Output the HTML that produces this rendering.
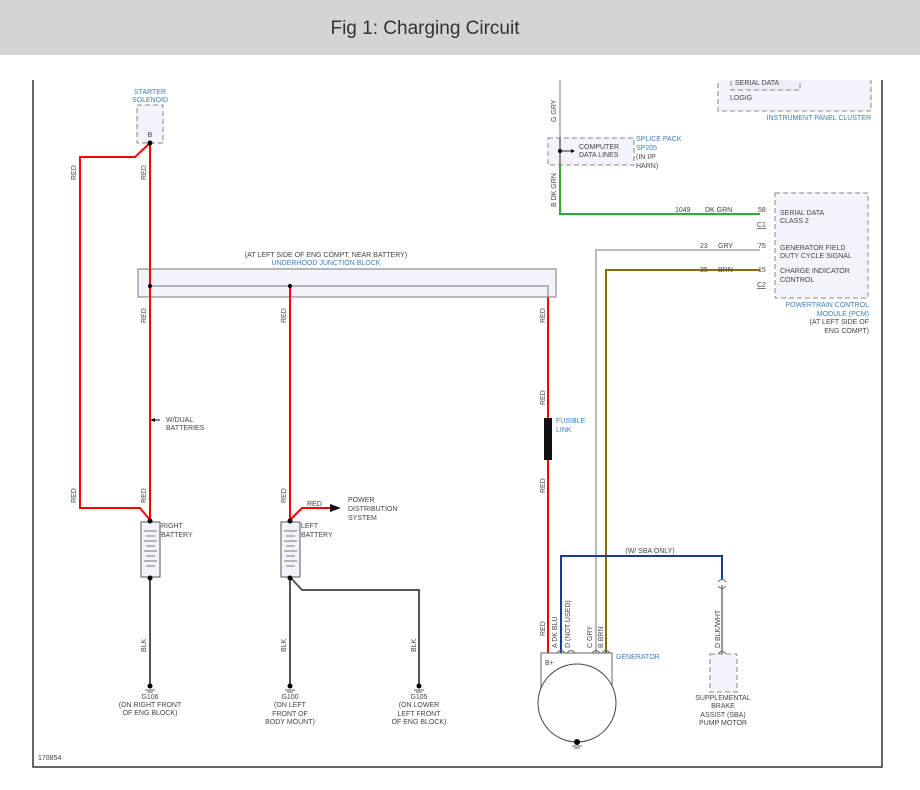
<!DOCTYPE html>
<html><head><meta charset="utf-8"><style>
body{margin:0;background:#fff;width:920px;height:790px;overflow:hidden}
svg{display:block}
text{font-family:"Liberation Sans",sans-serif;font-size:7px;fill:#444}
.b{fill:#3a7fc1}
</style></head><body>
<svg width="920" height="790" viewBox="0 0 920 790">
<rect x="0" y="0" width="920" height="55" fill="#d4d4d4"/>
<text x="425" y="34" text-anchor="middle" style="font-size:19px;fill:#333">Fig 1: Charging Circuit</text>
<!-- frame -->
<path d="M33 80V767H882V80" fill="none" stroke="#333" stroke-width="1.5"/>
<!-- IPC -->
<rect x="718" y="72" width="153" height="39" fill="#f3f3fc" stroke="#888" stroke-dasharray="5,3"/>
<rect x="731" y="72" width="69" height="18" fill="#eeeefa" stroke="#888" stroke-dasharray="5,3"/>
<rect x="716" y="60" width="160" height="20" fill="#fff"/>
<text x="735" y="85">SERIAL DATA</text>
<text x="730" y="100">LOGIG</text>
<text x="871" y="120" text-anchor="end" class="b">INSTRUMENT PANEL CLUSTER</text>
<!-- starter -->
<text x="150" y="94" text-anchor="middle" class="b">STARTER</text>
<text x="150" y="102" text-anchor="middle" class="b">SOLENOID</text>
<rect x="137" y="105" width="26" height="38" fill="#f3f3fc" stroke="#888" stroke-dasharray="5,3"/>
<text x="150" y="137" text-anchor="middle">B</text>
<!-- red wires -->
<g fill="none" stroke="#f00" stroke-width="2">
<path d="M150 143V520"/>
<path d="M150 143L135 157H80V508H140L150 520"/>
<path d="M290 286V520"/>
<path d="M290 520L302 508H330"/>
<path d="M548 297V655"/>
</g>
<path d="M330 504L341 508L330 512Z" fill="#111"/>
<!-- junction block -->
<text x="326" y="257" text-anchor="middle">(AT LEFT SIDE OF ENG COMPT, NEAR BATTERY)</text>
<text x="326" y="265" text-anchor="middle" class="b">UNDERHOOD JUNCTION BLOCK</text>
<rect x="138" y="269" width="418" height="28" fill="#f3f3fc" stroke="#777"/>
<path d="M150 286H548V297" fill="none" stroke="#777"/>
<path d="M150 269V297M290 286V297" stroke="#f00" stroke-width="2"/>
<circle cx="150" cy="286" r="2" fill="#000"/><circle cx="290" cy="286" r="2" fill="#000"/>
<circle cx="150" cy="143" r="2.5" fill="#000"/>
<!-- fusible link -->
<rect x="544" y="418" width="8" height="42" fill="#111"/>
<text x="556" y="423" class="b">FUSIBLE</text><text x="556" y="432" class="b">LINK</text>
<!-- wire labels rotated -->
<g>
<text transform="translate(76,180) rotate(-90)">RED</text>
<text transform="translate(146,180) rotate(-90)">RED</text>
<text transform="translate(146,323) rotate(-90)">RED</text>
<text transform="translate(286,323) rotate(-90)">RED</text>
<text transform="translate(545,323) rotate(-90)">RED</text>
<text transform="translate(545,405) rotate(-90)">RED</text>
<text transform="translate(545,493) rotate(-90)">RED</text>
<text transform="translate(76,503) rotate(-90)">RED</text>
<text transform="translate(146,503) rotate(-90)">RED</text>
<text transform="translate(286,503) rotate(-90)">RED</text>
<text transform="translate(146,652) rotate(-90)">BLK</text>
<text transform="translate(286,652) rotate(-90)">BLK</text>
<text transform="translate(416,652) rotate(-90)">BLK</text>
<text transform="translate(545,636) rotate(-90)">RED</text>
<text transform="translate(557,648) rotate(-90)">A  DK BLU</text>
<text transform="translate(570,648) rotate(-90)">D   (NOT USED)</text>
<text transform="translate(592,648) rotate(-90)">C  GRY</text>
<text transform="translate(603,648) rotate(-90)">B  BRN</text>
<text transform="translate(720,648) rotate(-90)">D  BLK/WHT</text>
<text transform="translate(556,122) rotate(-90)">G   GRY</text>
<text transform="translate(556,207) rotate(-90)">B   DK GRN</text>
</g>
<text x="307" y="506">RED</text>
<text x="348" y="502">POWER</text><text x="348" y="511">DISTRIBUTION</text><text x="348" y="520">SYSTEM</text>
<path d="M152 420H160" stroke="#111"/><path d="M150 420L155 418V422Z" fill="#111"/>
<text x="166" y="422">W/DUAL</text><text x="166" y="430">BATTERIES</text>
<!-- batteries -->
<g stroke="#555" fill="#f3f3fc">
<rect x="141" y="522" width="19" height="55"/><rect x="281" y="522" width="19" height="55"/>
</g>
<g stroke="#777">
<path d="M144 531h13M146 536h9M144 541h13M146 546h9M144 551h13M146 556h9M144 561h13M146 566h9"/>
<path d="M284 531h13M286 536h9M284 541h13M286 546h9M284 551h13M286 556h9M284 561h13M286 566h9"/>
</g>
<text x="161" y="528">RIGHT</text><text x="161" y="537">BATTERY</text>
<text x="301" y="528">LEFT</text><text x="301" y="537">BATTERY</text>
<circle cx="150" cy="521" r="2.5" fill="#000"/><circle cx="290" cy="521" r="2.5" fill="#000"/>
<g fill="none" stroke="#555" stroke-width="2">
<path d="M150 577V685"/><path d="M290 577V685"/><path d="M290 577L302 590H419V685"/>
</g>
<circle cx="150" cy="578" r="2.5" fill="#000"/><circle cx="290" cy="578" r="2.5" fill="#000"/>
<g fill="#000"><circle cx="150" cy="686" r="2.5"/><circle cx="290" cy="686" r="2.5"/><circle cx="419" cy="686" r="2.5"/></g>
<g stroke="#666"><path d="M145 690h10M147 692h6M285 690h10M287 692h6M414 690h10M416 692h6"/></g>
<g text-anchor="middle">
<text x="150" y="699">G106</text><text x="150" y="707">(ON RIGHT FRONT</text><text x="150" y="715">OF ENG BLOCK)</text>
<text x="290" y="699">G100</text><text x="290" y="707">(ON LEFT</text><text x="290" y="716">FRONT OF</text><text x="290" y="724">BODY MOUNT)</text>
<text x="419" y="699">G105</text><text x="419" y="707">(ON LOWER</text><text x="419" y="716">LEFT FRONT</text><text x="419" y="724">OF ENG BLOCK)</text>
</g>
<text x="38" y="760">170854</text>
<!-- splice pack -->
<path d="M560 80V138" stroke="#bbb" stroke-width="2"/>
<rect x="548" y="138" width="86" height="27" fill="#f3f3fc" stroke="#888" stroke-dasharray="5,3"/>
<path d="M560 138V165M560 151H572" stroke="#222"/>
<circle cx="560" cy="151" r="2" fill="#000"/>
<path d="M571 149L575 151L571 153Z" fill="#000"/>
<text x="579" y="149">COMPUTER</text><text x="579" y="157">DATA LINES</text>
<text x="636" y="141" class="b">SPLICE PACK</text><text x="636" y="150" class="b">SP205</text>
<text x="636" y="159">(IN I/P</text><text x="636" y="168">HARN)</text>
<path d="M560 165V214H760" fill="none" stroke="#3a3" stroke-width="2"/>
<path d="M596 655V250H760" fill="none" stroke="#bbb" stroke-width="2"/>
<path d="M606 655V270H760" fill="none" stroke="#8b6914" stroke-width="2"/>
<path d="M561 655V556H722V580" fill="none" stroke="#1a3a9a" stroke-width="2"/>
<path d="M722 585V655" stroke="#999" stroke-width="2"/>
<path d="M718 582q4-5 8 0M718 586q4 5 8 0" fill="none" stroke="#666"/>
<text x="650" y="553" text-anchor="middle">(W/ SBA ONLY)</text>
<text x="675" y="212">1049</text><text x="705" y="212">DK GRN</text><text x="758" y="212">58</text>
<text x="757" y="227" style="text-decoration:underline">C1</text>
<text x="700" y="248">23</text><text x="718" y="248">GRY</text><text x="758" y="248">75</text>
<text x="700" y="272">25</text><text x="718" y="272">BRN</text><text x="758" y="272">15</text>
<text x="757" y="287" style="text-decoration:underline">C2</text>
<!-- PCM -->
<rect x="775" y="193" width="93" height="105" fill="#f3f3fc" stroke="#888" stroke-dasharray="5,3"/>
<text x="780" y="215">SERIAL DATA</text><text x="780" y="223">CLASS 2</text>
<text x="780" y="250">GENERATOR FIELD</text><text x="780" y="258">DUTY CYCLE SIGNAL</text>
<text x="780" y="273">CHARGE INDICATOR</text><text x="780" y="282">CONTROL</text>
<text x="869" y="307" text-anchor="end" class="b">POWERTRAIN CONTROL</text>
<text x="869" y="316" text-anchor="end" class="b">MODULE (PCM)</text>
<text x="869" y="324" text-anchor="end">(AT LEFT SIDE OF</text>
<text x="869" y="333" text-anchor="end">ENG COMPT)</text>
<!-- generator -->
<rect x="541" y="653" width="71" height="35" fill="#fff" stroke="#666"/>
<circle cx="577" cy="703" r="39" fill="#fff" stroke="#444"/>
<text x="545" y="665">B+</text>
<text x="616" y="659" class="b">GENERATOR</text>
<circle cx="577" cy="742" r="3" fill="#000"/>
<path d="M572 746h10M574 748h6" stroke="#666"/>
<g fill="none" stroke="#666"><path d="M557 653q4-5 8 0M567 653q4-5 8 0M592 653q4-5 8 0M602 653q4-5 8 0M718 654q4-5 8 0"/></g>
<!-- SBA -->
<rect x="710" y="654" width="27" height="38" fill="#f3f3fc" stroke="#888" stroke-dasharray="5,3"/>
<g text-anchor="middle"><text x="723" y="700">SUPPLEMENTAL</text><text x="723" y="708">BRAKE</text><text x="723" y="717">ASSIST (SBA)</text><text x="723" y="725">PUMP MOTOR</text></g>
</svg>
</body></html>
